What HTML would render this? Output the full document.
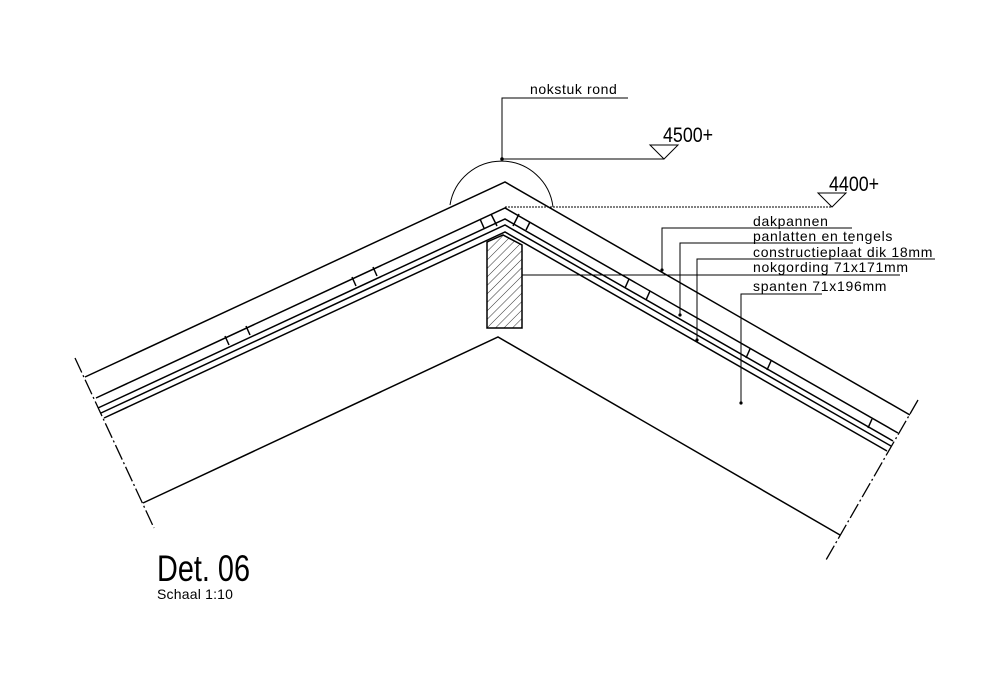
<!DOCTYPE html>
<html><head><meta charset="utf-8"><style>
html,body{margin:0;padding:0;background:#fff;width:1000px;height:680px;overflow:hidden}
text{font-family:"Liberation Sans",sans-serif;fill:#000}
</style></head><body>
<svg width="1000" height="680" viewBox="0 0 1000 680" xmlns="http://www.w3.org/2000/svg">
<defs>
<pattern id="h" width="6" height="6" patternUnits="userSpaceOnUse" patternTransform="rotate(45)">
<line x1="0" y1="0" x2="0" y2="6" stroke="#000" stroke-width="0.8"/>
</pattern>
</defs>
<g fill="none" stroke="#000" stroke-width="1.5">
<polyline points="85,377 505,182 910,415"/>
<polyline points="96,398 505,208 898,433"/>
<polyline points="98,408 505,219 893,441"/>
<polyline points="101,413 505,225 891,446"/>
<polyline points="104,418 505,232 887,451"/>
<polyline points="143,503 498,337 840,535"/>
<line x1="491" y1="214" x2="497" y2="226"/>
<line x1="519" y1="214" x2="513" y2="226"/>
<line x1="225" y1="336" x2="229" y2="345"/>
<line x1="246" y1="326" x2="250" y2="335"/>
<line x1="352" y1="277" x2="356" y2="286"/>
<line x1="373" y1="267" x2="377" y2="276"/>
<line x1="480" y1="219" x2="484" y2="228"/>
<line x1="530" y1="222" x2="526" y2="230"/>
<line x1="629" y1="279" x2="625" y2="288"/>
<line x1="650" y1="291" x2="646" y2="300"/>
<line x1="750" y1="349" x2="746" y2="358"/>
<line x1="771" y1="361" x2="767" y2="370"/>
<line x1="872" y1="419" x2="868" y2="428"/>
<polygon points="487,242 503,235 522,245 522,328 487,328" fill="url(#h)"/>
</g>
<g stroke="#000" stroke-width="1.3" stroke-dasharray="16,3,2,3" fill="none">
<line x1="75" y1="358" x2="154" y2="528"/>
<line x1="918" y1="400" x2="826" y2="560"/>
</g>
<path d="M450,205 A52,52 0 0 1 553,207" fill="none" stroke="#000" stroke-width="1"/>
<g stroke="#000" stroke-width="1" fill="none">
<polyline points="502,159 502,98 628,98"/>
<line x1="502" y1="159" x2="664" y2="159"/>
<polygon points="650,145 678,145 664,159"/>
<polygon points="818,193 846,193 832,207"/>
<polyline points="662,270 662,228 852,228"/>
<polyline points="680,315 680,243 853,243"/>
<polyline points="697,340 697,259 935,259"/>
<line x1="522" y1="275" x2="900" y2="275"/>
<polyline points="741,403 741,294 822,294"/>
</g>
<line x1="505" y1="207" x2="832" y2="207" stroke="#000" stroke-width="1" stroke-dasharray="2,1"/>
<g fill="#000"><circle cx="502" cy="159" r="1.8"/><circle cx="662" cy="270" r="1.6"/><circle cx="680" cy="315" r="1.6"/><circle cx="697" cy="340" r="1.6"/><circle cx="741" cy="403" r="1.6"/></g>
<text x="530" y="94" font-size="14" letter-spacing="0.6">nokstuk rond</text>
<text x="663" y="142" font-size="21" transform="translate(663 0) scale(0.85 1) translate(-663 0)">4500+</text>
<text x="829" y="191" font-size="21" transform="translate(829 0) scale(0.85 1) translate(-829 0)">4400+</text>
<g font-size="14" letter-spacing="0.7">
<text x="753" y="226">dakpannen</text>
<text x="753" y="241">panlatten en tengels</text>
<text x="753" y="257">constructieplaat dik 18mm</text>
<text x="753" y="272">nokgording 71x171mm</text>
<text x="753" y="291">spanten 71x196mm</text>
</g>
<text x="157" y="581" font-size="37" transform="translate(157 0) scale(0.78 1) translate(-157 0)">Det. 06</text>
<text x="157" y="599" font-size="14" letter-spacing="0.2">Schaal 1:10</text>
</svg>
</body></html>
